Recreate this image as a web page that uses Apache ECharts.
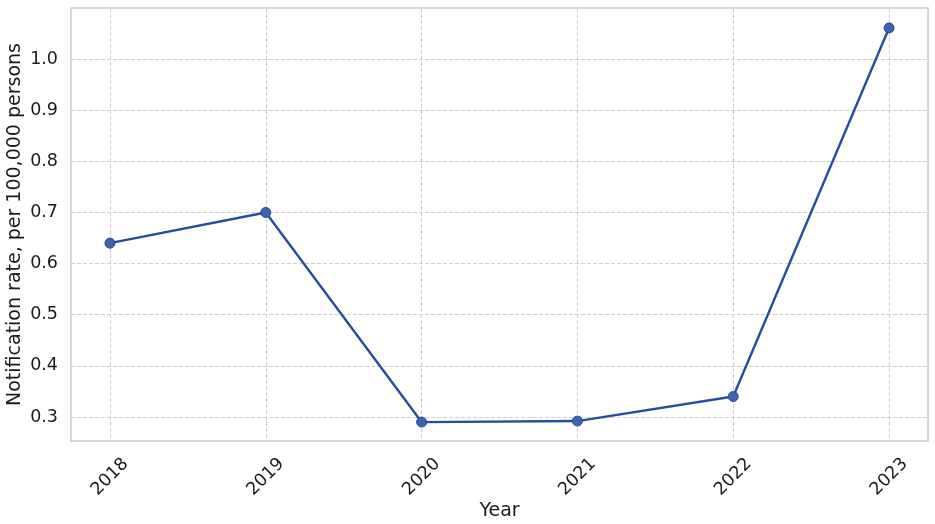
<!DOCTYPE html>
<html>
<head>
<meta charset="utf-8">
<script src="https://cdn.jsdelivr.net/npm/echarts@6/dist/echarts.min.js"></script>
<style>
  html, body { margin: 0; padding: 0; background: #fff; }
  #chart { width: 935px; height: 524px; }
</style>
</head>
<body>
<div id="chart"></div>
<script>
const years = [2018, 2019, 2020, 2021, 2022, 2023];
const rates = [0.64, 0.70, 0.29, 0.292, 0.34, 1.061];
const yTicks = [0.3, 0.4, 0.5, 0.6, 0.7, 0.8, 0.9, 1.0];

const chart = echarts.init(document.getElementById('chart'));

const gridLine = { show: true, lineStyle: { color: '#cfcfcf', width: 1, type: [4, 2] } };

const option = {
  animation: false,
  textStyle: { fontFamily: 'DejaVu Sans' },
  grid: {
    left: 71, right: 7, top: 8, bottom: 83,
    outerBoundsMode: 'none',
    containLabel: false,
    show: true, borderColor: '#cccccc', borderWidth: 1.5, backgroundColor: '#fff'
  },
  xAxis: {
    type: 'value',
    min: 2017.75,
    max: 2023.25,
    name: 'Year',
    nameLocation: 'middle',
    nameGap: 70,
    nameMoveOverlap: false,
    nameTextStyle: { fontSize: 19, color: '#1a1a1a', verticalAlign: 'middle' },
    axisLine: { show: false },
    axisTick: { show: false, customValues: years },
    axisLabel: {
      customValues: years,
      rotate: 45,
      align: 'center',
      verticalAlign: 'middle',
      margin: 36,
      fontSize: 17.5,
      color: '#1a1a1a',
      formatter: v => String(v)
    },
    splitLine: gridLine
  },
  yAxis: {
    type: 'value',
    min: 0.253,
    max: 1.1,
    name: 'Notification rate, per 100,000 persons',
    nameLocation: 'middle',
    nameGap: 56,
    nameMoveOverlap: false,
    nameTextStyle: { fontSize: 19, color: '#1a1a1a', verticalAlign: 'middle' },
    axisLine: { show: false },
    axisTick: { show: false, customValues: yTicks },
    axisLabel: {
      customValues: yTicks,
      margin: 13,
      fontSize: 17.5,
      color: '#1a1a1a',
      formatter: v => v.toFixed(1)
    },
    splitLine: gridLine
  },
  series: [{
    type: 'line',
    data: years.map((y, i) => [y, rates[i]]),
    symbol: 'circle',
    symbolSize: 10,
    lineStyle: { color: '#244ea0', width: 2.4 },
    itemStyle: { color: '#3c63ac', borderColor: '#244a92', borderWidth: 1 }
  }]
};

chart.setOption(option);
</script>
</body>
</html>
